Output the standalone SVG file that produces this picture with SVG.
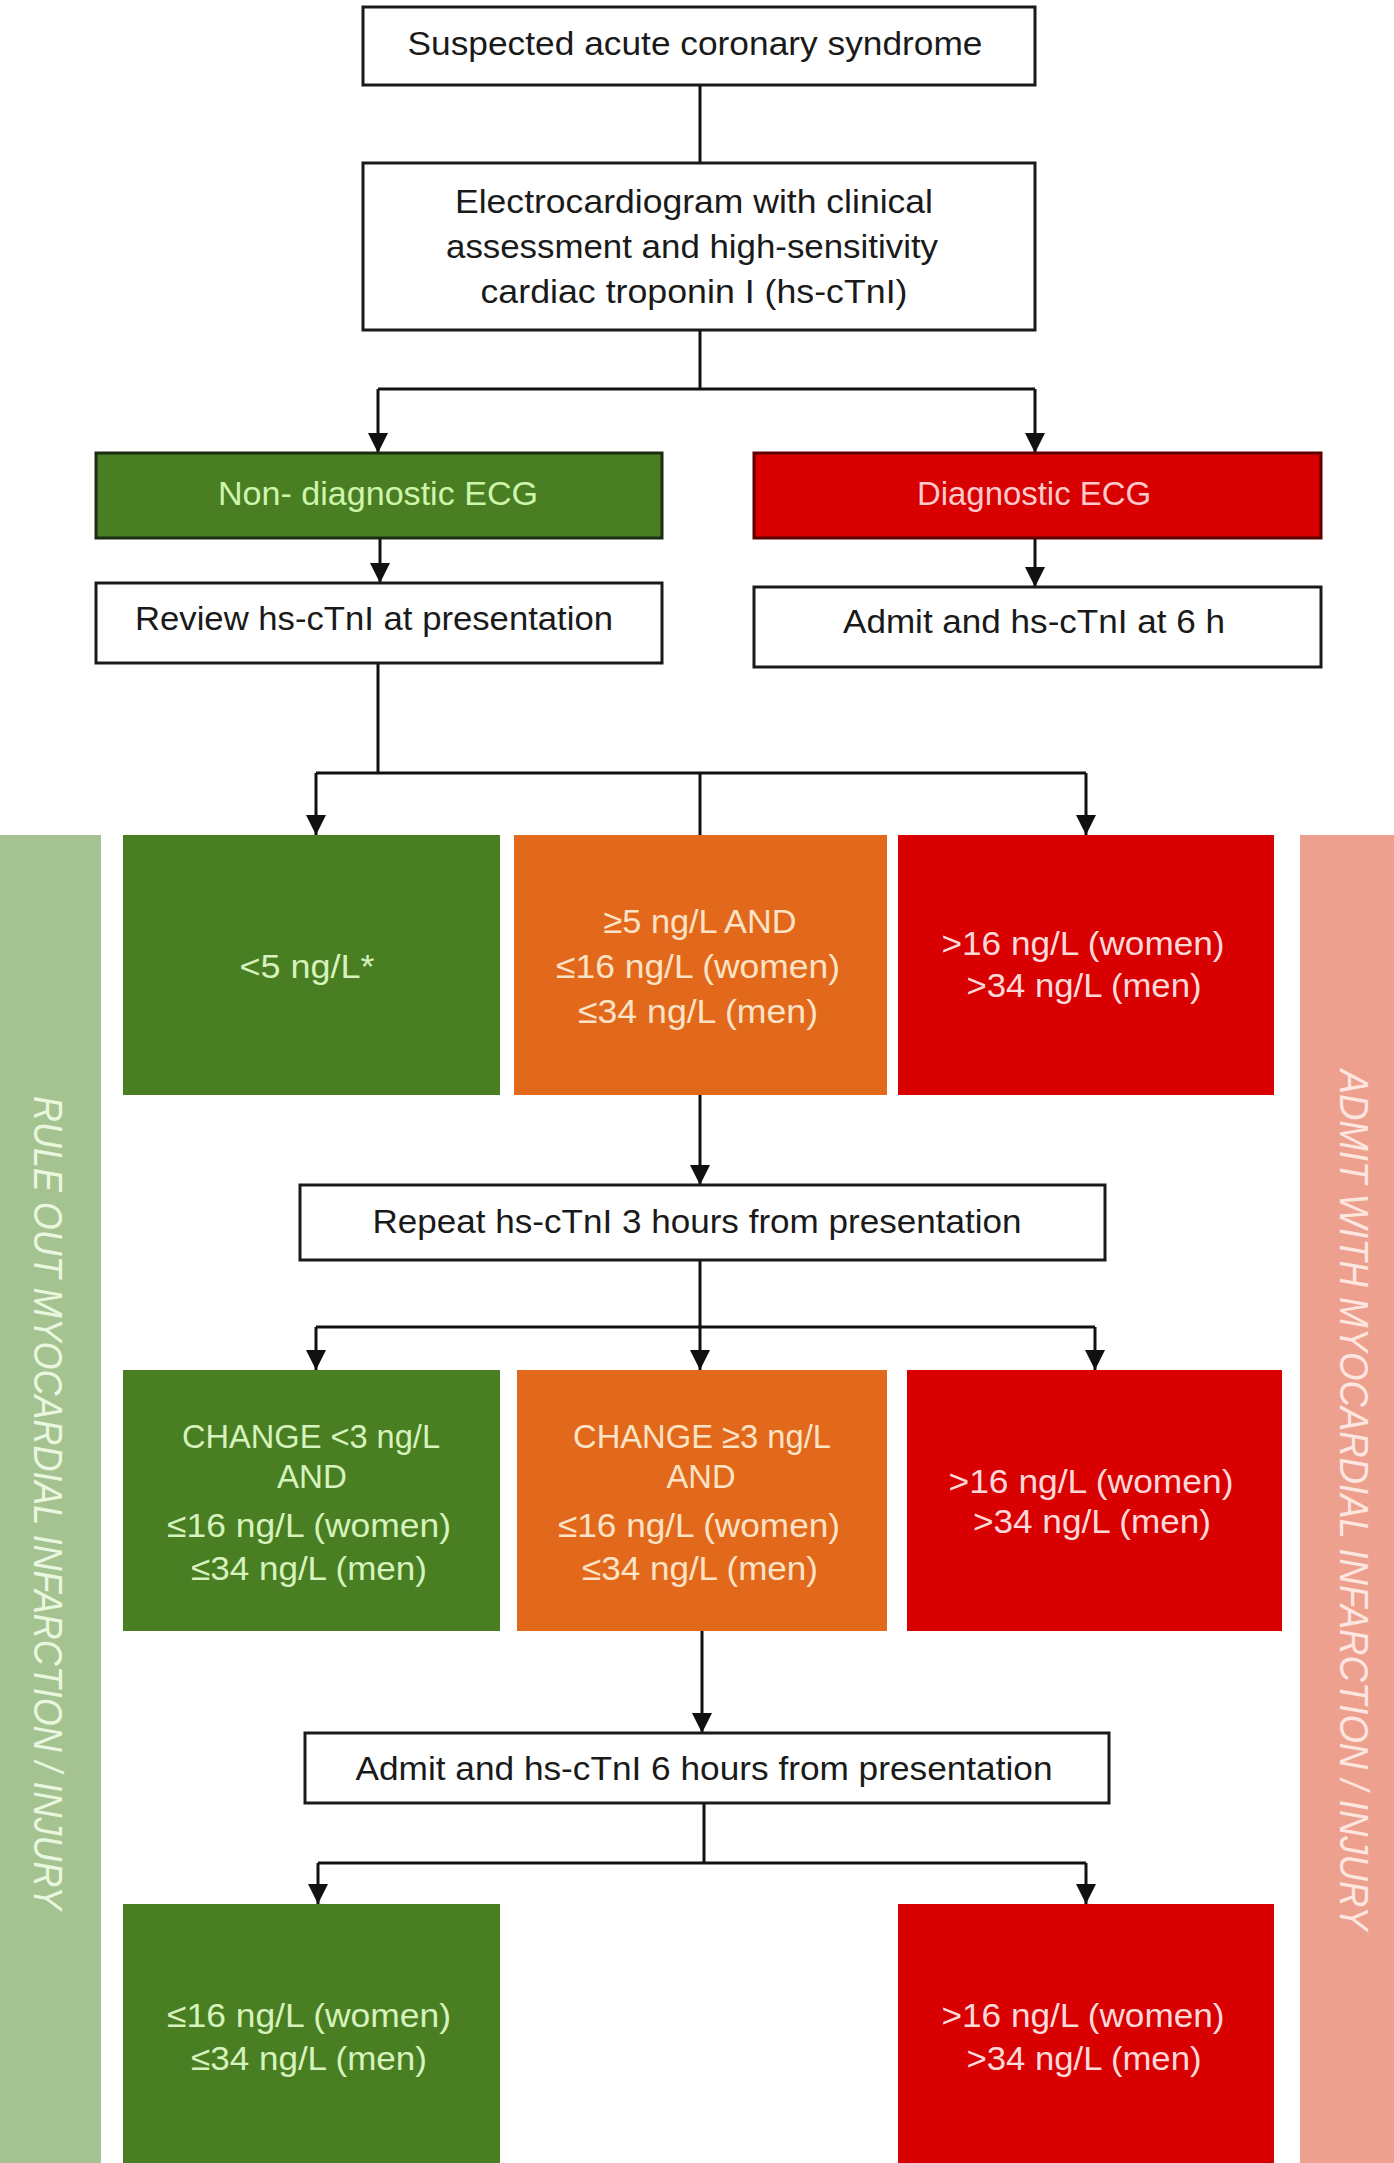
<svg xmlns="http://www.w3.org/2000/svg" width="1394" height="2163" viewBox="0 0 1394 2163">
  <defs>
    <marker id="arrow" viewBox="0 0 20 20" refX="20" refY="10" markerWidth="20" markerHeight="20" markerUnits="userSpaceOnUse" orient="auto">
      <path d="M0,0 L20,10 L0,20 z" fill="#111"/>
    </marker>
    <style>
      text { font-family: "Liberation Sans", Arial, sans-serif; font-size: 34px; text-anchor: middle; }
      .plain { fill: #fff; stroke: #1a1a1a; stroke-width: 3; }
      .dark { fill: #1a1a1a; }
      .green { fill: #4a7e22; }
      .orange { fill: #e2691b; }
      .red { fill: #d80000; }
      .tg { fill: #d6f3bd; }
      .to { fill: #fde3c6; }
      .tr { fill: #ffd9d9; }
      .side { font-size: 40px; font-style: italic; }
      .conn line, .conn path { stroke: #111; stroke-width: 3; fill: none; }
    </style>
  </defs>

  <rect width="1394" height="2163" fill="#fff"/>

  <!-- side bands -->
  <g id="band-rule-out">
    <rect x="0" y="835" width="101" height="1328" fill="#a5c291"/>
    <text class="side" fill="#e9f7df" transform="translate(34,1503) rotate(90)" textLength="814" lengthAdjust="spacingAndGlyphs">RULE OUT MYOCARDIAL INFARCTION / INJURY</text>
  </g>
  <g id="band-admit">
    <rect x="1300" y="835" width="94" height="1328" fill="#eea08f"/>
    <text class="side" fill="#fde6e0" transform="translate(1340,1500) rotate(90)" textLength="861" lengthAdjust="spacingAndGlyphs">ADMIT WITH MYOCARDIAL INFARCTION / INJURY</text>
  </g>

  <!-- connectors -->
  <g id="connectors" class="conn">
    <line x1="700" y1="85" x2="700" y2="163"/>
    <line x1="700" y1="330" x2="700" y2="389"/>
    <line x1="378" y1="389" x2="1035" y2="389"/>
    <line x1="378" y1="389" x2="378" y2="453" marker-end="url(#arrow)"/>
    <line x1="1035" y1="389" x2="1035" y2="453" marker-end="url(#arrow)"/>
    <line x1="380" y1="538" x2="380" y2="583" marker-end="url(#arrow)"/>
    <line x1="1035" y1="538" x2="1035" y2="587" marker-end="url(#arrow)"/>
    <line x1="378" y1="663" x2="378" y2="773"/>
    <line x1="316" y1="773" x2="1086" y2="773"/>
    <line x1="316" y1="773" x2="316" y2="835" marker-end="url(#arrow)"/>
    <line x1="1086" y1="773" x2="1086" y2="835" marker-end="url(#arrow)"/>
    <line x1="700" y1="773" x2="700" y2="835"/>
    <line x1="700" y1="1095" x2="700" y2="1185" marker-end="url(#arrow)"/>
    <line x1="700" y1="1260" x2="700" y2="1327"/>
    <line x1="316" y1="1327" x2="1095" y2="1327"/>
    <line x1="316" y1="1327" x2="316" y2="1370" marker-end="url(#arrow)"/>
    <line x1="700" y1="1327" x2="700" y2="1370" marker-end="url(#arrow)"/>
    <line x1="1095" y1="1327" x2="1095" y2="1370" marker-end="url(#arrow)"/>
    <line x1="702" y1="1631" x2="702" y2="1733" marker-end="url(#arrow)"/>
    <line x1="704" y1="1803" x2="704" y2="1863"/>
    <line x1="318" y1="1863" x2="1086" y2="1863"/>
    <line x1="318" y1="1863" x2="318" y2="1904" marker-end="url(#arrow)"/>
    <line x1="1086" y1="1863" x2="1086" y2="1904" marker-end="url(#arrow)"/>
  </g>

  <!-- top of the pathway -->
  <g id="suspected-acs">
    <rect class="plain" x="363" y="7" width="672" height="78"/>
    <text class="dark" x="695" y="55" textLength="575" lengthAdjust="spacingAndGlyphs">Suspected acute coronary syndrome</text>
  </g>
  <g id="ecg-assessment">
    <rect class="plain" x="363" y="163" width="672" height="167"/>
    <text class="dark" x="694" y="213" textLength="478" lengthAdjust="spacingAndGlyphs">Electrocardiogram with clinical</text>
    <text class="dark" x="692" y="258" textLength="492" lengthAdjust="spacingAndGlyphs">assessment and high-sensitivity</text>
    <text class="dark" x="694" y="303" textLength="427" lengthAdjust="spacingAndGlyphs">cardiac troponin I (hs-cTnI)</text>
  </g>

  <g id="non-diagnostic-ecg">
    <rect x="96" y="453" width="566" height="85" fill="#4a7e22" stroke="#1c2c10" stroke-width="3"/>
    <text fill="#cff5ad" x="378" y="505" textLength="320" lengthAdjust="spacingAndGlyphs">Non- diagnostic ECG</text>
  </g>
  <g id="diagnostic-ecg">
    <rect x="754" y="453" width="567" height="85" fill="#d80000" stroke="#5c0000" stroke-width="3"/>
    <text fill="#ffcaca" x="1034" y="505" textLength="234" lengthAdjust="spacingAndGlyphs">Diagnostic ECG</text>
  </g>
  <g id="review-presentation">
    <rect class="plain" x="96" y="583" width="566" height="80"/>
    <text class="dark" x="374" y="630" textLength="478" lengthAdjust="spacingAndGlyphs">Review hs-cTnI at presentation</text>
  </g>
  <g id="admit-6h">
    <rect class="plain" x="754" y="587" width="567" height="80"/>
    <text class="dark" x="1034" y="633" textLength="382" lengthAdjust="spacingAndGlyphs">Admit and hs-cTnI at 6 h</text>
  </g>

  <!-- presentation result -->
  <g id="p-low">
    <rect class="green" x="123" y="835" width="377" height="260"/>
    <text class="tg" x="307" y="978" textLength="135" lengthAdjust="spacingAndGlyphs">&lt;5 ng/L*</text>
  </g>
  <g id="p-mid">
    <rect class="orange" x="514" y="835" width="373" height="260"/>
    <text class="to" x="700" y="933" textLength="193" lengthAdjust="spacingAndGlyphs">≥5 ng/L AND</text>
    <text class="to" x="698" y="978" textLength="284" lengthAdjust="spacingAndGlyphs">≤16 ng/L (women)</text>
    <text class="to" x="698" y="1023" textLength="240" lengthAdjust="spacingAndGlyphs">≤34 ng/L (men)</text>
  </g>
  <g id="p-high">
    <rect class="red" x="898" y="835" width="376" height="260"/>
    <text class="tr" x="1083" y="955" textLength="283" lengthAdjust="spacingAndGlyphs">&gt;16 ng/L (women)</text>
    <text class="tr" x="1084" y="997" textLength="235" lengthAdjust="spacingAndGlyphs">&gt;34 ng/L (men)</text>
  </g>

  <g id="repeat-3h">
    <rect class="plain" x="300" y="1185" width="805" height="75"/>
    <text class="dark" x="697" y="1233" textLength="649" lengthAdjust="spacingAndGlyphs">Repeat hs-cTnI 3 hours from presentation</text>
  </g>

  <!-- 3 hour result -->
  <g id="h3-low">
    <rect class="green" x="123" y="1370" width="377" height="261"/>
    <text class="tg" x="311" y="1448" textLength="258" lengthAdjust="spacingAndGlyphs">CHANGE &lt;3 ng/L</text>
    <text class="tg" x="312" y="1488" textLength="70" lengthAdjust="spacingAndGlyphs">AND</text>
    <text class="tg" x="309" y="1537" textLength="284" lengthAdjust="spacingAndGlyphs">≤16 ng/L (women)</text>
    <text class="tg" x="309" y="1580" textLength="236" lengthAdjust="spacingAndGlyphs">≤34 ng/L (men)</text>
  </g>
  <g id="h3-mid">
    <rect class="orange" x="517" y="1370" width="370" height="261"/>
    <text class="to" x="702" y="1448" textLength="258" lengthAdjust="spacingAndGlyphs">CHANGE ≥3 ng/L</text>
    <text class="to" x="701" y="1488" textLength="69" lengthAdjust="spacingAndGlyphs">AND</text>
    <text class="to" x="699" y="1537" textLength="282" lengthAdjust="spacingAndGlyphs">≤16 ng/L (women)</text>
    <text class="to" x="700" y="1580" textLength="236" lengthAdjust="spacingAndGlyphs">≤34 ng/L (men)</text>
  </g>
  <g id="h3-high">
    <rect class="red" x="907" y="1370" width="375" height="261"/>
    <text class="tr" x="1091" y="1493" textLength="285" lengthAdjust="spacingAndGlyphs">&gt;16 ng/L (women)</text>
    <text class="tr" x="1092" y="1533" textLength="238" lengthAdjust="spacingAndGlyphs">&gt;34 ng/L (men)</text>
  </g>

  <g id="admit-6-hours">
    <rect class="plain" x="305" y="1733" width="804" height="70"/>
    <text class="dark" x="704" y="1780" textLength="697" lengthAdjust="spacingAndGlyphs">Admit and hs-cTnI 6 hours from presentation</text>
  </g>

  <!-- 6 hour result -->
  <g id="h6-low">
    <rect class="green" x="123" y="1904" width="377" height="262"/>
    <text class="tg" x="309" y="2027" textLength="284" lengthAdjust="spacingAndGlyphs">≤16 ng/L (women)</text>
    <text class="tg" x="309" y="2070" textLength="236" lengthAdjust="spacingAndGlyphs">≤34 ng/L (men)</text>
  </g>
  <g id="h6-high">
    <rect class="red" x="898" y="1904" width="376" height="262"/>
    <text class="tr" x="1083" y="2027" textLength="283" lengthAdjust="spacingAndGlyphs">&gt;16 ng/L (women)</text>
    <text class="tr" x="1084" y="2070" textLength="235" lengthAdjust="spacingAndGlyphs">&gt;34 ng/L (men)</text>
  </g>
</svg>
